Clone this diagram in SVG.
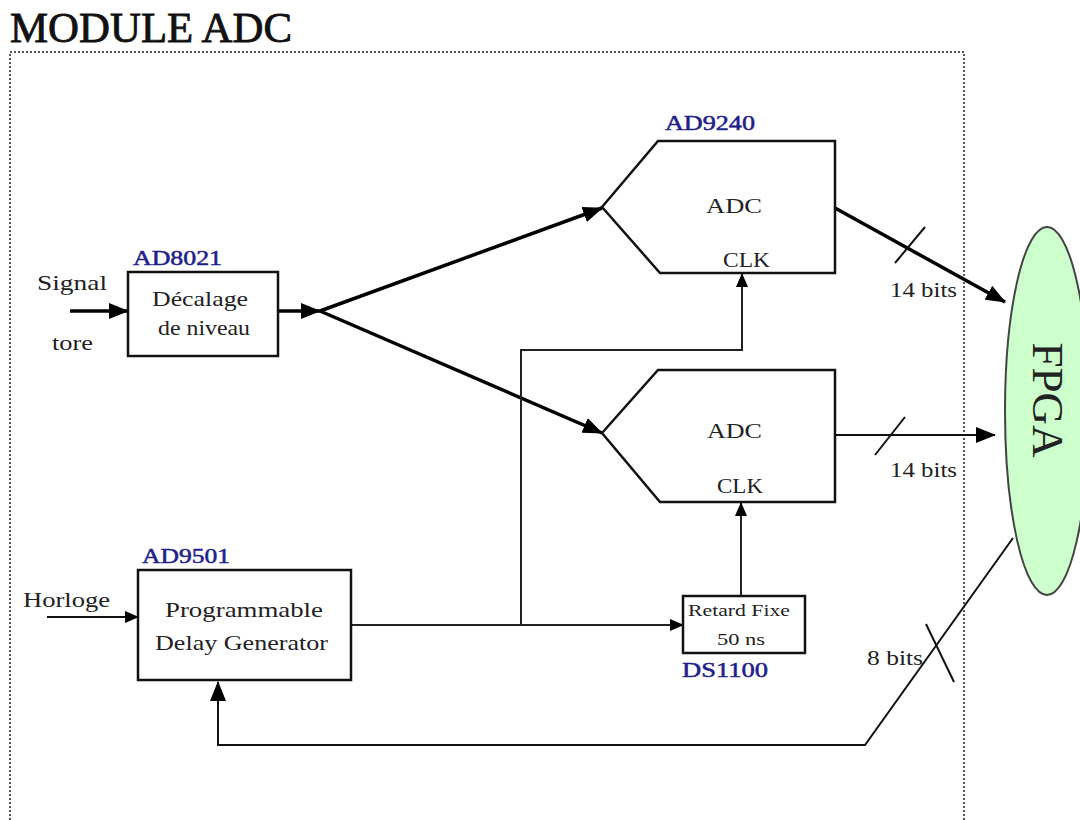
<svg xmlns="http://www.w3.org/2000/svg" width="1080" height="820" viewBox="0 0 1080 820">
<style>
text{font-family:"Liberation Serif","Times New Roman",serif;fill:#222}
.t{font-size:42px;fill:#111;stroke:#111;stroke-width:0.8}
.b{font-size:20px;fill:#1f1f8a;stroke:#1f1f8a;stroke-width:0.5}
.n{font-size:22px}
.s{font-size:17px}
.box{fill:#fff;stroke:#111;stroke-width:2.5}
.sig{fill:none;stroke:#000;stroke-width:3.5}
.clk{fill:none;stroke:#222;stroke-width:2}
.thin{fill:none;stroke:#111;stroke-width:2}
</style>
<defs>
<marker id="ah" markerUnits="userSpaceOnUse" markerWidth="20" markerHeight="16" refX="19" refY="8" orient="auto"><path d="M0,0L20,8L0,16z" fill="#000"/></marker>
<marker id="as" markerUnits="userSpaceOnUse" markerWidth="14" markerHeight="12" refX="13" refY="6" orient="auto"><path d="M0,0L14,6L0,12z" fill="#000"/></marker>
</defs>
<rect width="1080" height="820" fill="#fff"/>
<text class="t" x="10" y="42" textLength="282" lengthAdjust="spacingAndGlyphs">MODULE ADC</text>
<path d="M10,820V52H964V820" fill="none" stroke="#555" stroke-width="2" stroke-dasharray="2 2"/>

<g id="connectors">
<line class="sig" x1="70" y1="311" x2="128" y2="311" marker-end="url(#ah)"/>
<line class="sig" x1="278" y1="311" x2="320" y2="311" marker-end="url(#ah)"/>
<line class="sig" x1="320" y1="311" x2="602" y2="208" marker-end="url(#ah)"/>
<line class="sig" x1="320" y1="311" x2="602" y2="433" marker-end="url(#ah)"/>
<line class="sig" x1="835" y1="208" x2="1005" y2="302" marker-end="url(#ah)"/>
<line class="thin" x1="895" y1="263" x2="925" y2="227"/>
<line class="thin" x1="835" y1="435" x2="995" y2="435" marker-end="url(#ah)"/>
<line class="thin" x1="875" y1="455" x2="905" y2="417"/>
<line class="thin" x1="47" y1="617" x2="138" y2="617" marker-end="url(#as)"/>
<line class="clk" x1="351" y1="625" x2="683" y2="625" marker-end="url(#as)"/>
<polyline class="clk" points="521,625 521,350 742,350 742,274" marker-end="url(#as)"/>
<line class="clk" x1="741" y1="596" x2="741" y2="503" marker-end="url(#as)"/>
<polyline class="thin" points="1013,538 865,745 218,745 218,682" marker-end="url(#ah)"/>
<line class="thin" x1="926" y1="624" x2="954" y2="682"/>
</g>

<g id="decalage">
<rect class="box" x="128" y="272" width="150" height="84"/>
<text class="b" x="133" y="265" textLength="89" lengthAdjust="spacingAndGlyphs">AD8021</text>
<text class="n" x="152" y="306" textLength="96" lengthAdjust="spacingAndGlyphs">Décalage</text>
<text class="n" x="158" y="335" textLength="92" lengthAdjust="spacingAndGlyphs">de niveau</text>
</g>
<g id="signal-in">
<text class="n" x="37" y="290" textLength="70" lengthAdjust="spacingAndGlyphs">Signal</text>
<text class="n" x="52" y="350" textLength="41" lengthAdjust="spacingAndGlyphs">tore</text>
</g>

<g id="adc1">
<path class="box" d="M602,207L658,141H835V273H660Z" stroke-width="3"/>
<text class="b" x="665" y="130" textLength="90" lengthAdjust="spacingAndGlyphs">AD9240</text>
<text class="n" x="706" y="213" textLength="56" lengthAdjust="spacingAndGlyphs">ADC</text>
<text class="n" x="723" y="267" textLength="47" lengthAdjust="spacingAndGlyphs">CLK</text>
</g>
<g id="adc2">
<path class="box" d="M602,433L658,370H835V502H660Z" stroke-width="3"/>
<text class="n" x="707" y="438" textLength="55" lengthAdjust="spacingAndGlyphs">ADC</text>
<text class="n" x="717" y="493" textLength="46" lengthAdjust="spacingAndGlyphs">CLK</text>
</g>

<g id="pdg">
<rect class="box" x="138" y="570" width="213" height="110"/>
<text class="b" x="142" y="563" textLength="88" lengthAdjust="spacingAndGlyphs">AD9501</text>
<text class="n" x="165" y="617" textLength="158" lengthAdjust="spacingAndGlyphs">Programmable</text>
<text class="n" x="155" y="650" textLength="173" lengthAdjust="spacingAndGlyphs">Delay Generator</text>
</g>
<g id="horloge">
<text class="n" x="23" y="607" textLength="87" lengthAdjust="spacingAndGlyphs">Horloge</text>
</g>

<g id="retard">
<rect class="box" x="683" y="596" width="122" height="57" stroke-width="2"/>
<text class="s" x="688" y="616" textLength="102" lengthAdjust="spacingAndGlyphs">Retard Fixe</text>
<text class="s" x="717" y="645" textLength="48" lengthAdjust="spacingAndGlyphs">50 ns</text>
<text class="b" x="682" y="677" textLength="86" lengthAdjust="spacingAndGlyphs">DS1100</text>
</g>

<g id="fpga">
<ellipse cx="1047" cy="411" rx="42" ry="184" fill="#ccffcc" stroke="#444" stroke-width="2"/>
<text x="0" y="0" font-size="44" transform="translate(1033,400) rotate(90)" text-anchor="middle" textLength="115" lengthAdjust="spacingAndGlyphs">FPGA</text>
</g>

<g id="labels">
<text class="n" x="890" y="297" textLength="67" lengthAdjust="spacingAndGlyphs">14 bits</text>
<text class="n" x="890" y="477" textLength="67" lengthAdjust="spacingAndGlyphs">14 bits</text>
<text class="n" x="867" y="665" textLength="56" lengthAdjust="spacingAndGlyphs">8 bits</text>
</g>
</svg>
